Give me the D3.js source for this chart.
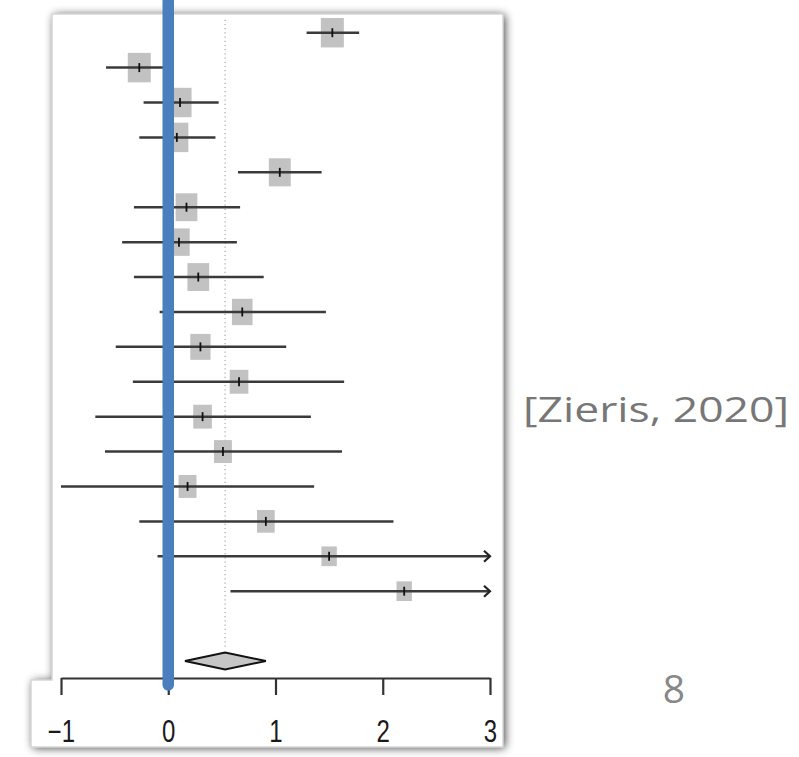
<!DOCTYPE html>
<html>
<head>
<meta charset="utf-8">
<script src="https://cdn.jsdelivr.net/npm/d3@7"></script>
<style>
  html, body { margin: 0; padding: 0; background: #fff; }
  svg { display: block; }
</style>
</head>
<body>
<svg id="chart"></svg>
<script>
// study rows, top to bottom (effect size, 95% CI, weight %)
const estimates = [1.53, -0.27, 0.11, 0.08, 1.04, 0.17, 0.10, 0.28, 0.69, 0.30, 0.66, 0.32, 0.51, 0.18, 0.91, 1.50, 2.20];
const lowers    = [1.29, -0.58, -0.23, -0.27, 0.65, -0.32, -0.43, -0.32, -0.08, -0.49, -0.33, -0.68, -0.59, -1.00, -0.27, -0.10, 0.58];
const uppers    = [1.78, 0.04, 0.47, 0.44, 1.43, 0.67, 0.64, 0.89, 1.47, 1.10, 1.64, 1.33, 1.62, 1.36, 2.10, 3.10, 3.82];
const weights   = [7.6, 7.6, 7.6, 7.6, 6.9, 6.8, 6.6, 6.8, 6.1, 5.9, 5.0, 5.0, 4.6, 4.6, 4.5, 3.4, 3.4];
// pooled estimate
const summary = { est: 0.53, lower: 0.156, upper: 0.91 };
const tickValues = [-1, 0, 1, 2, 3];
const citation = '[Zieris, 2020]';
const slideNumber = '8';

const width = 799, height = 757;
const stretch = 1.28; // the pasted plot is taller than it is wide

const svg = d3.select('#chart')
    .attr('width', width)
    .attr('height', height);

const x = d3.scaleLinear().domain([-1, 3]).range([61, 490]);
const y = d3.scaleLinear().domain([1, 19]).range([32.7, 661]);
const size = d3.scaleSqrt().domain([0, d3.max(weights)]).range([0, 23]);

// DROP SHADOW FOR THE PASTED PICTURE
const defs = svg.append('defs');
const shadow = defs.append('filter').attr('id', 'shadow')
    .attr('x', '-10%').attr('y', '-10%').attr('width', '120%').attr('height', '120%');
shadow.append('feGaussianBlur').attr('in', 'SourceAlpha').attr('stdDeviation', 5).attr('result', 'blur');
shadow.append('feOffset').attr('dx', 1.5).attr('dy', 1).attr('result', 'off');
shadow.append('feComponentTransfer').append('feFuncA').attr('type', 'linear').attr('slope', 0.75);

const frame = 'M52,14H503V747H31V680H52Z';
svg.append('path').attr('d', frame).attr('fill', '#000').attr('filter', 'url(#shadow)');
svg.append('path').attr('d', frame)
    .attr('fill', '#fff')
    .attr('stroke', '#d6d6d6')
    .attr('stroke-width', 1.5);

const rows = estimates.map((d, i) => ({
    est: d, lower: lowers[i], upper: uppers[i], w: weights[i], row: i + 1
}));

// dotted reference line at pooled estimate
svg.append('line')
    .attr('x1', x(summary.est)).attr('x2', x(summary.est))
    .attr('y1', y(1) - 13).attr('y2', y(19) - 14)
    .attr('stroke', '#a8a8a8')
    .attr('stroke-width', 1.2)
    .attr('stroke-dasharray', '1.2,3');

const g = svg.append('g').selectAll('g')
    .data(rows)
    .enter().append('g')
    .attr('transform', d => `translate(0, ${y(d.row)})`);

g.append('rect')
    .attr('x', d => x(d.est) - size(d.w) / 2)
    .attr('y', d => -size(d.w) * stretch / 2)
    .attr('width', d => size(d.w))
    .attr('height', d => size(d.w) * stretch)
    .attr('fill', '#c2c2c2');

g.append('line')
    .attr('x1', d => x(Math.max(d.lower, -1)))
    .attr('x2', d => x(Math.min(d.upper, 3)))
    .attr('stroke', '#3a3a3a')
    .attr('stroke-width', 2.5);

g.append('line')
    .attr('x1', d => x(d.est)).attr('x2', d => x(d.est))
    .attr('y1', -4.5).attr('y2', 4.5)
    .attr('stroke', '#111')
    .attr('stroke-width', 1.8);

// arrows for intervals beyond the axis
g.filter(d => d.upper > 3).append('path')
    .attr('d', `M${x(3) - 6},-5.5L${x(3)},0L${x(3) - 6},5.5`)
    .attr('fill', 'none')
    .attr('stroke', '#222')
    .attr('stroke-width', 2.2);

// summary diamond
const yd = y(19);
svg.append('path')
    .attr('d', `M${x(summary.lower)},${yd}L${x(summary.est)},${yd - 8.5}L${x(summary.upper)},${yd}L${x(summary.est)},${yd + 8.5}Z`)
    .attr('fill', '#c6c6c6')
    .attr('stroke', '#111')
    .attr('stroke-width', 2);

// X AXIS
const axis = svg.append('g')
    .attr('transform', 'translate(0, 678)')
    .call(d3.axisBottom(x)
        .tickValues(tickValues)
        .tickSize(17)
        .tickSizeOuter(0)
        .tickFormat(d3.format('d')))
    .attr('font-size', 24)
    .attr('font-family', '"Liberation Sans", Arial, sans-serif');

axis.select('.domain').attr('stroke', '#333').attr('stroke-width', 2.2);
axis.selectAll('.tick line').attr('stroke', '#333').attr('stroke-width', 2.2);
axis.selectAll('.tick text')
    .attr('fill', '#1a1a1a')
    .attr('y', 0)
    .attr('dy', null)
    .attr('transform', `translate(0, 63.5) scale(1, ${stretch})`);

// blue marker at zero
svg.append('line')
    .attr('x1', x(0)).attr('x2', x(0))
    .attr('y1', -10).attr('y2', 685)
    .attr('stroke', '#4a7ebd')
    .attr('stroke-width', 11.5)
    .attr('stroke-linecap', 'round');

// SLIDE TEXT
svg.append('text')
    .attr('x', 523)
    .attr('y', 422)
    .attr('textLength', 266)
    .attr('lengthAdjust', 'spacingAndGlyphs')
    .attr('fill', '#777')
    .style('font-family', '"Open Sans", "Noto Sans", sans-serif')
    .style('font-size', '34px')
    .text(citation);

svg.append('text')
    .attr('x', 674)
    .attr('y', 703)
    .attr('text-anchor', 'middle')
    .attr('fill', '#888')
    .style('font-family', '"Open Sans", "Noto Sans", sans-serif')
    .style('font-size', '39px')
    .text(slideNumber);
</script>
</body>
</html>
